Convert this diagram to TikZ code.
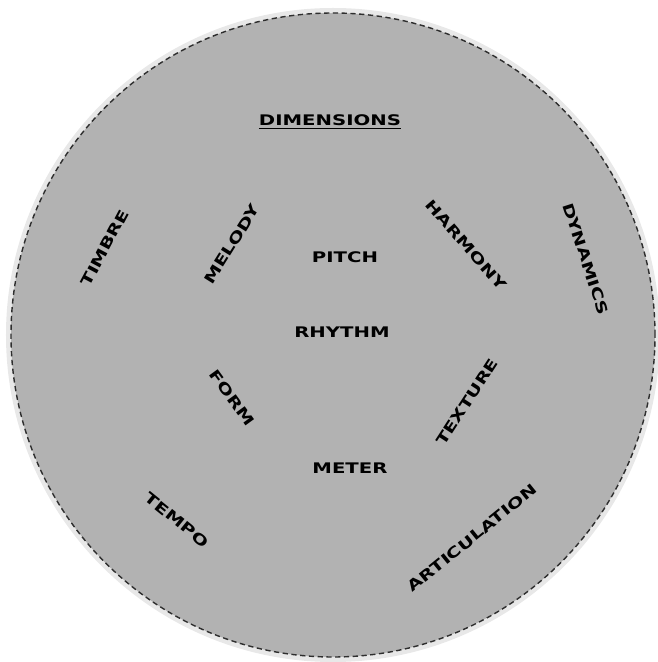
\documentclass[tikz,border=0pt]{standalone}
\usepackage{fontspec}
\usepackage{xcolor}
\usetikzlibrary{positioning}
\newfontfamily\dimfont{DejaVu Sans Bold}[FakeStretch=1.35]
\definecolor{DiscGrey}{HTML}{B2B2B2}
\definecolor{DiscEdge}{HTML}{2E2E2E}

\begin{document}
\begin{tikzpicture}[
  x=0.02cm, y=0.02cm,
  disc/.style={fill=DiscGrey, draw=DiscEdge, line width=0.8pt, densely dashed},
  halo/.style={fill=DiscGrey, fill opacity=0.3, draw=none},
  dimlabel/.style={font=\dimfont\fontsize{8.3}{9}\selectfont, text=black, inner sep=1pt},
]
\useasboundingbox (-333,-327) rectangle (325,335);

% --- the disc ---
\fill[halo] (0,0) circle (327);
\draw[disc] (0,0) circle (322);

% --- title and the three centre words ---
\node[dimlabel] (dimensions) at (-3,213) {\underline{DIMENSIONS}};
\node[dimlabel] (pitch) at (12,78) {PITCH};
\node[dimlabel] (rhythm) at (9,3) {RHYTHM};
\node[dimlabel] (meter) at (17,-133) {METER};

% --- rotated words round the rim ---
\foreach \txt/\id/\x/\y/\ang in {
  TIMBRE/timbre/-228/87/62,
  MELODY/melody/-101/91/58,
  HARMONY/harmony/133/90/-49,
  DYNAMICS/dynamics/253/76/-72,
  FORM/form/-101/-63/-54,
  TEXTURE/texture/134/-67/57,
  TEMPO/tempo/-156/-185/-39,
  ARTICULATION/articulation/139/-203/39}
{
  \node[dimlabel, rotate=\ang] (\id) at (\x,\y) {\txt};
}

\end{tikzpicture}
\end{document}
